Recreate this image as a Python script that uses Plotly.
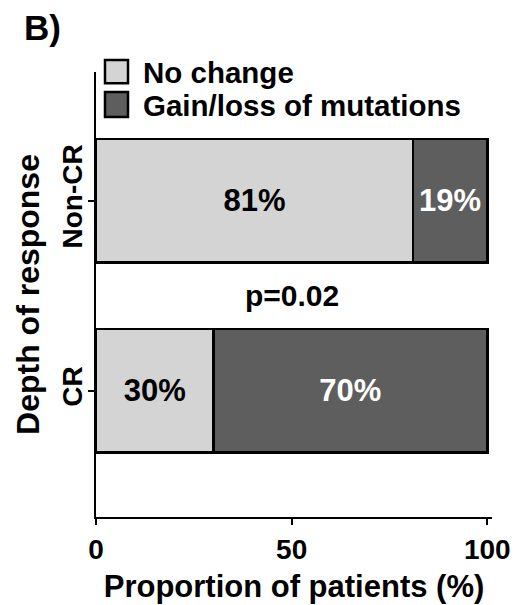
import plotly.graph_objects as go

# Depth of response groups and the share of patients in each outcome
groups = ["CR", "Non-CR"]
no_change = [30, 81]
gain_loss = [70, 19]
series_names = ["No change", "Gain/loss of mutations"]
x_ticks = [0, 50, 100]
p_value_text = "p=0.02"

LIGHT = "#d4d4d4"
DARK = "#5e5e5e"
FONT = "Liberation Sans, Arial, sans-serif"

fig = go.Figure()
fig.add_trace(go.Bar(
    y=groups, x=no_change, orientation="h", name=series_names[0],
    marker=dict(color=LIGHT, line=dict(color="black", width=2.5)),
    width=0.65,
    texttemplate="%{x}%", textposition="inside", insidetextanchor="middle",
    textfont=dict(family=FONT, size=31, color="black", weight="bold"),
    textangle=0, showlegend=False,
))
fig.add_trace(go.Bar(
    y=groups, x=gain_loss, orientation="h", name=series_names[1],
    marker=dict(color=DARK, line=dict(color="black", width=2.5)),
    width=0.65,
    texttemplate="%{x}%", textposition="inside", insidetextanchor="middle",
    textfont=dict(family=FONT, size=31, color="white", weight="bold"),
    textangle=0, showlegend=False,
))

# Legend drawn as framed swatches with labels
swatches = [(LIGHT, 0.975, 1.027, 1.0), (DARK, 0.899, 0.955, 0.925)]
for (col, y0, y1, ty), label in zip(swatches, series_names):
    fig.add_shape(type="rect", xref="paper", yref="paper",
                  x0=0.0227, x1=0.0808, y0=y0, y1=y1,
                  fillcolor=col, line=dict(color="black", width=2.5))
    fig.add_annotation(xref="paper", yref="paper", x=0.114, y=ty,
                       text=label, showarrow=False, xanchor="left", yanchor="middle",
                       font=dict(family=FONT, size=29.5, color="black", weight="bold"))

# Significance label between the two bars
fig.add_annotation(x=50, y=0.5, xref="x", yref="y", text=p_value_text, showarrow=False,
                   font=dict(family=FONT, size=30, color="black", weight="bold"))

# Panel letter
fig.add_annotation(xref="paper", yref="paper", x=-0.136, y=1.099, text="B)",
                   showarrow=False, xanchor="center", yanchor="middle",
                   font=dict(family=FONT, size=35, color="black", weight="bold"))

fig.update_layout(
    barmode="stack",
    width=515, height=605,
    margin=dict(l=96, r=23, t=72, b=88),
    paper_bgcolor="white", plot_bgcolor="white",
    font=dict(family=FONT, color="black"),
    xaxis=dict(
        automargin=False,
        range=[0, 101.2], tickvals=x_ticks, ticktext=[str(v) for v in x_ticks],
        showgrid=False, zeroline=False, showline=True, linecolor="black", linewidth=2,
        ticks="outside", ticklen=6, tickwidth=2, tickcolor="black",
        tickfont=dict(family=FONT, size=28, color="black", weight="bold"),
        title=dict(text="Proportion of patients (%)", standoff=12,
                   font=dict(family=FONT, size=31, color="black", weight="bold")),
    ),
    yaxis=dict(
        automargin=False,
        type="category", categoryorder="array", categoryarray=groups,
        range=[-0.665, 1.677],
        showgrid=False, zeroline=False, showline=True, linecolor="black", linewidth=2,
        ticks="outside", ticklen=6, tickwidth=2, tickcolor="black", tickangle=-90,
        ticklabelstandoff=-5,
        tickfont=dict(family=FONT, size=28, color="black", weight="bold"),
        title=dict(text="Depth of response", standoff=8,
                   font=dict(family=FONT, size=32, color="black", weight="bold")),
    ),
)

fig.write_html("out.html")
